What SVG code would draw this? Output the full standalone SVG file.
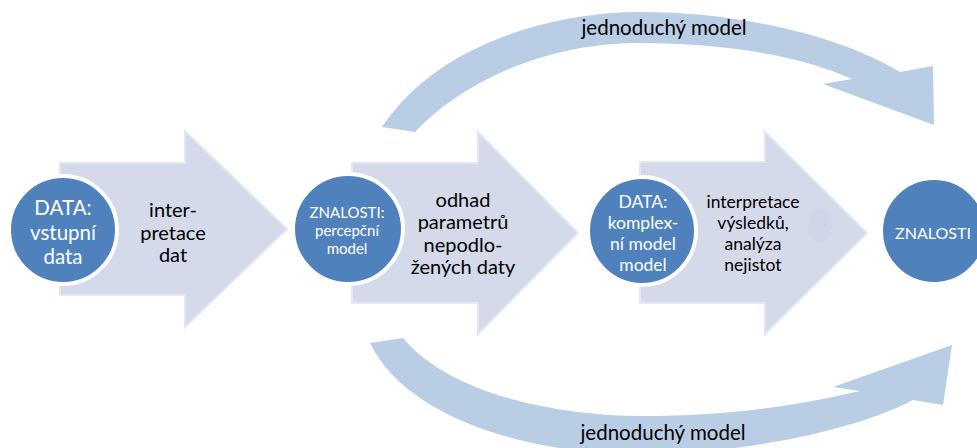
<svg xmlns="http://www.w3.org/2000/svg" width="977" height="448" viewBox="0 0 977 448">
<style>
.arrow{fill:#D4DAEA;stroke:#E2E7F1;stroke-width:2}
.curve{fill:#B9CDE5}
.circ{fill:#4F81BD;stroke:#FFFFFF;stroke-width:4}
.wt{fill:#FFFFFF;font-family:Lato,"Liberation Sans",sans-serif;text-anchor:middle;font-weight:400}
.bt{fill:#000000;font-family:Lato,"Liberation Sans",sans-serif;text-anchor:middle;font-weight:400}
</style>
<rect width="977" height="448" fill="#FFFFFF"/>
<g id="connectors">
  <g id="curve-top">
    <path class="curve" d="M382,127 C440,40 560,12 640,12 C740,12 840,36 900,72 L933,66 L934,125 L823,84 L852,79 C800,55 720,43 640,43 C540,43 460,85 415,132 Z"/>
    <text class="bt" x="664" y="35" font-size="20.5">jednoduchý model</text>
  </g>
  <g id="curve-bottom">
    <path class="curve" d="M370,343 L403,338 C450,395 560,416 640,416 C730,416 800,405 860,391 L833,387 L952,345 L943,405 L913,400 C860,428 750,454 640,454 C520,454 405,415 370,343 Z"/>
    <text class="bt" x="663" y="440" font-size="20.5">jednoduchý model</text>
  </g>
</g>
<g id="step1">
  <path class="arrow" d="M60,163 L185,163 L185,131 L287,229 L185,327 L185,295 L60,295 Z"/>
  <text class="bt" font-size="20" x="173"><tspan x="173" y="217">inter-</tspan><tspan x="173" y="240">pretace</tspan><tspan x="173" y="262">dat</tspan></text>
</g>
<g id="step2">
  <path class="arrow" d="M352,163 L478,163 L478,132 L578,233 L478,334 L478,303 L352,303 Z"/>
  <text class="bt" font-size="20" x="463"><tspan x="463" y="207">odhad</tspan><tspan x="463" y="229">parametrů</tspan><tspan x="463" y="252">nepodlo-</tspan><tspan x="463" y="274">žených daty</tspan></text>
</g>
<g id="step3">
  <path class="arrow" d="M640,162 L765,162 L765,132 L867,233 L765,334 L765,303 L640,303 Z"/>
  <ellipse cx="820" cy="226" rx="12" ry="17" fill="#CDD4E6" opacity="0.7"/>
  <circle cx="818" cy="224" r="0.5" fill="#AEB8CC"/>
  <circle cx="825" cy="224" r="0.5" fill="#AEB8CC"/>
  <text class="bt" font-size="17.5" x="753"><tspan x="753" y="208">interpretace</tspan><tspan x="753" y="229">výsledků,</tspan><tspan x="753" y="250">analýza</tspan><tspan x="753" y="271">nejistot</tspan></text>
</g>
<g id="node-data-vstupni">
  <circle class="circ" cx="63" cy="230" r="54"/>
  <text class="wt" font-size="20.5"><tspan x="63" y="215">DATA:</tspan><tspan x="63" y="240">vstupní</tspan><tspan x="63" y="264">data</tspan></text>
</g>
<g id="node-znalosti-percepcni">
  <circle class="circ" cx="348" cy="229" r="55"/>
  <text class="wt" font-size="15"><tspan x="347" y="218">ZNALOSTI:</tspan><tspan x="347" y="236">percepční</tspan><tspan x="347" y="254">model</tspan></text>
</g>
<g id="node-data-komplexni">
  <circle class="circ" cx="642" cy="231" r="54"/>
  <text class="wt" font-size="17.5"><tspan x="643" y="208">DATA:</tspan><tspan x="643" y="229">komplex-</tspan><tspan x="643" y="250">ní model</tspan><tspan x="643" y="271">model</tspan></text>
</g>
<g id="node-znalosti">
  <circle class="circ" cx="934" cy="231" r="53"/>
  <text class="wt" font-size="16" x="933" y="239">ZNALOSTI</text>
</g>
</svg>
